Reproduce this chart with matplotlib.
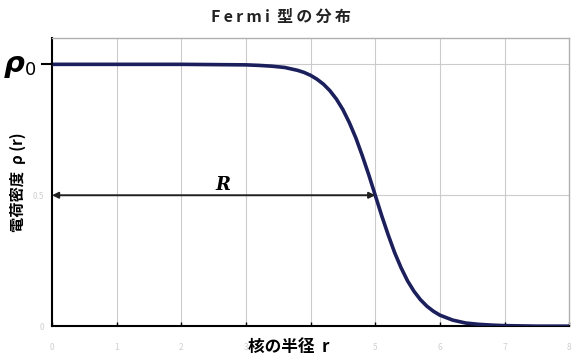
import matplotlib
matplotlib.use("Agg")
import matplotlib.pyplot as plt

plt.rcParams['font.family'] = ['Noto Sans CJK JP', 'DejaVu Sans']

# values (Fermi-type charge density, rho/rho0)
r_values = [0, 1, 2, 3.0, 3.2, 3.4, 3.6, 3.8, 3.9, 4.0, 4.1, 4.2, 4.3, 4.4,
            4.5, 4.6, 4.7, 4.8, 4.9, 5.0, 5.1, 5.2, 5.3, 5.4, 5.5, 5.6, 5.7,
            5.8, 5.9, 6.0, 6.2, 6.4, 6.6, 6.8, 7.0, 7.5, 8.0]
rho_values = [1.0, 1.0, 1.0, 0.998, 0.996, 0.993, 0.988, 0.977, 0.969, 0.958,
              0.943, 0.924, 0.899, 0.867, 0.827, 0.777, 0.719, 0.651, 0.578,
              0.5, 0.422, 0.349, 0.281, 0.223, 0.173, 0.133, 0.101, 0.076,
              0.057, 0.042, 0.023, 0.012, 0.007, 0.004, 0.002, 0.0, 0.0]
x_ticks = [0, 1, 2, 3, 4, 5, 6, 7, 8]
x_tick_labels = ['0', '1', '2', '3', '', '5', '6', '7', '8']
R = 5
half = 0.5

fig = plt.figure(figsize=(5.72, 3.6), dpi=100)
ax = fig.add_axes([0.091, 0.094, 0.904, 0.8])

ax.plot(r_values, rho_values, color='#1b1f5c', lw=2.6, zorder=3)

ax.set_xlim(0, 8)
ax.set_ylim(0, 1.1)
ax.set_xticks(x_ticks)
ax.set_xticklabels(x_tick_labels, color='#cfcfcf', fontsize=6)
ax.set_yticks([0, half, 1.0])
ax.set_yticklabels(['0', '0.5', ''], color='#cfcfcf', fontsize=6)
ax.tick_params(axis='x', direction='in', length=3, width=1, color='black', pad=12)
ax.tick_params(axis='y', length=0, pad=6)

# grid
for x in x_ticks[1:-1]:
    ax.axvline(x, color='#cbcbcb', lw=0.8, zorder=1)
for y in [half, 1.0]:
    ax.axhline(y, color='#cbcbcb', lw=0.8, zorder=1)

for side in ['top', 'right']:
    ax.spines[side].set_color('#b0b0b0')
    ax.spines[side].set_linewidth(1.0)
for side in ['left', 'bottom']:
    ax.spines[side].set_color('black')
    ax.spines[side].set_linewidth(1.5)

# rho0 marker on the y axis
ax.plot([-0.15, 0], [1.0, 1.0], color='black', lw=1.5, clip_on=False, zorder=4)
ax.text(-0.58, 1.0, 'ρ', fontsize=21, ha='center', va='center',
        fontweight='bold', style='italic', family='DejaVu Sans')
ax.text(-0.33, 0.98, '0', fontsize=13, ha='center', va='center',
        family='DejaVu Sans')

# R arrow
ax.annotate('', xy=(R, half), xytext=(0, half),
            arrowprops=dict(arrowstyle='<|-|>', color='#202020', lw=1.4,
                            mutation_scale=9, shrinkA=0, shrinkB=0), zorder=4)
ax.text(2.65, half + 0.005, 'R', fontsize=13, fontweight='bold', style='italic',
        family='DejaVu Serif', ha='center', va='bottom')

fig.text(0.492, 0.952, 'F\u2009e\u2009r\u2009m\u2009i  型\u2009の\u2009分\u2009布',
         fontsize=11.5, fontweight='bold', ha='center', va='center',
         color='#222222')
fig.text(0.505, 0.036, '核の半径  r', fontsize=12, fontweight='bold',
         ha='center', va='center')
fig.text(0.032, 0.495, '電荷密度  ρ (r)', fontsize=11, fontweight='bold',
         ha='center', va='center', rotation=90)

fig.savefig('out.png', dpi=100)
